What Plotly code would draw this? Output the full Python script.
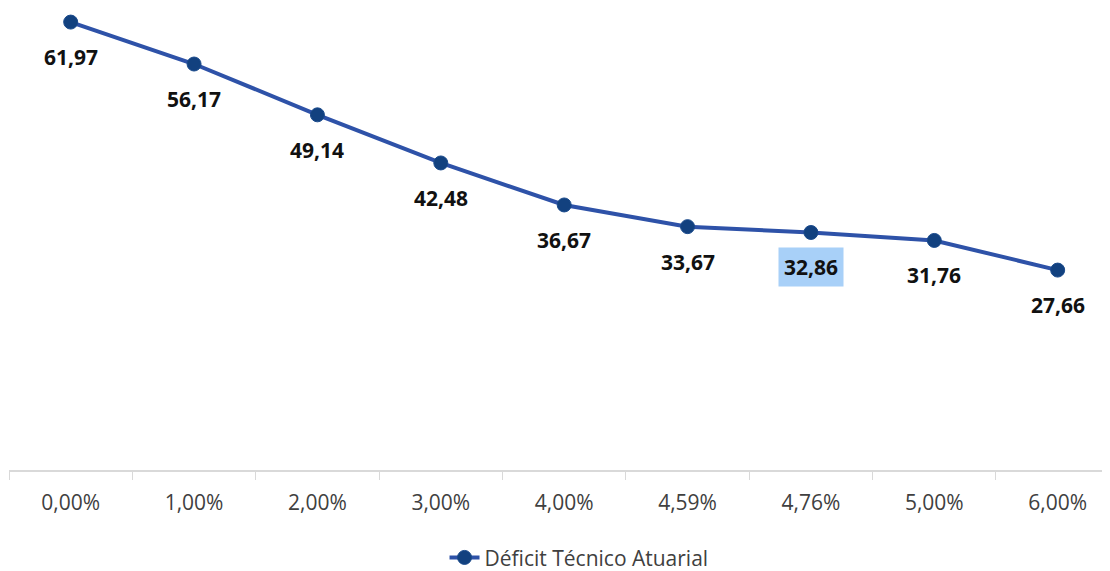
import plotly.graph_objects as go

categories = ["0,00%", "1,00%", "2,00%", "3,00%", "4,00%", "4,59%", "4,76%", "5,00%", "6,00%"]
values = [61.97, 56.17, 49.14, 42.48, 36.67, 33.67, 32.86, 31.76, 27.66]
value_labels = ["61,97", "56,17", "49,14", "42,48", "36,67", "33,67", "32,86", "31,76", "27,66"]
highlighted = ["4,76%"]
series_name = "Déficit Técnico Atuarial"

FONT = "Open Sans"

fig = go.Figure()
fig.add_trace(go.Scatter(
    x=categories, y=values, mode="lines+markers", name=series_name,
    line=dict(color="#2e52a8", width=4),
    marker=dict(color="#12417f", size=14, line=dict(color="#1a4a8c", width=1)),
    cliponaxis=False,
))

for c, v, t in zip(categories, values, value_labels):
    hl = c in highlighted
    fig.add_annotation(
        x=c, y=v, text="<b>%s</b>" % t, showarrow=False, yshift=-35,
        font=dict(family=FONT, size=21, color="#111111"),
        bgcolor="#a8d0f8" if hl else "rgba(0,0,0,0)",
        borderpad=5 if hl else 0,
    )

fig.update_layout(
    width=1110, height=571,
    margin=dict(l=1, r=0, t=0, b=109, autoexpand=False),
    paper_bgcolor="white", plot_bgcolor="white",
    showlegend=True,
    legend=dict(orientation="h", x=0.514, xanchor="center", y=-0.19, yanchor="middle",
                font=dict(family=FONT, size=21, color="#404040")),
    font=dict(family=FONT),
)
fig.update_xaxes(
    type="category", range=[-0.5, 8.489], automargin=False,
    showline=True, linecolor="#d9d9d9", linewidth=1.5,
    ticks="outside", tickson="boundaries", ticklen=8, tickcolor="#d9d9d9",
    ticklabelstandoff=13,
    tickfont=dict(family=FONT, size=21, color="#404040"),
    showgrid=False, zeroline=False,
)
fig.update_yaxes(range=[0, 63.92], visible=False, showgrid=False, zeroline=False, automargin=False)

fig.write_html("out.html")
